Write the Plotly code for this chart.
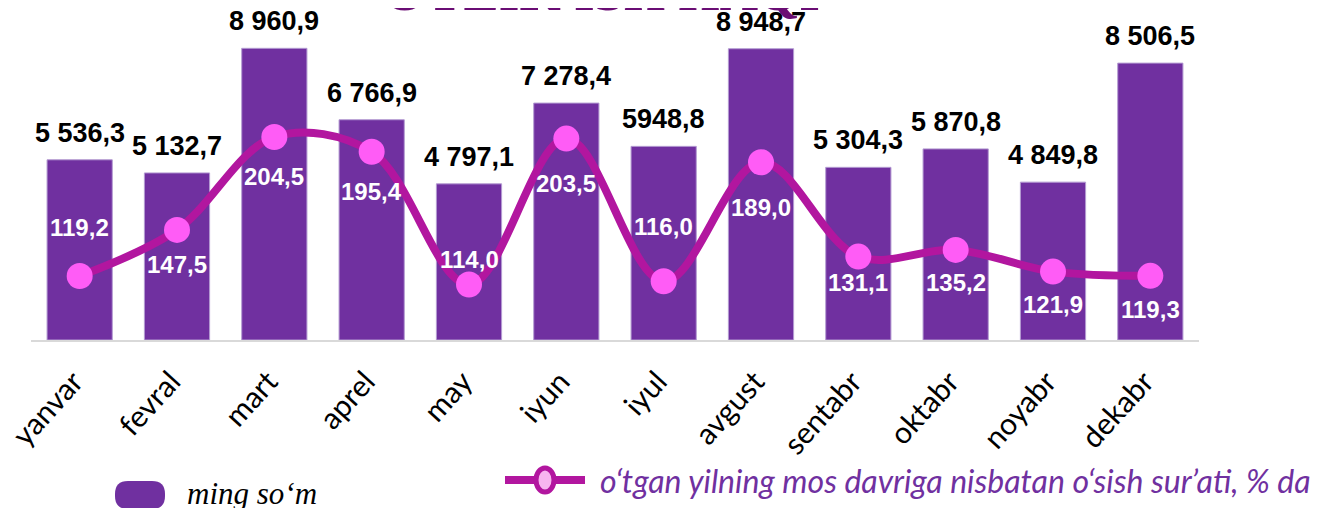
import plotly.graph_objects as go

months = ["yanvar", "fevral", "mart", "aprel", "may", "iyun", "iyul",
          "avgust", "sentabr", "oktabr", "noyabr", "dekabr"]
wage = [5536.3, 5132.7, 8960.9, 6766.9, 4797.1, 7278.4, 5948.8,
        8948.7, 5304.3, 5870.8, 4849.8, 8506.5]
wage_labels = ["5 536,3", "5 132,7", "8 960,9", "6 766,9", "4 797,1", "7 278,4",
               "5948,8", "8 948,7", "5 304,3", "5 870,8", "4 849,8", "8 506,5"]
growth = [119.2, 147.5, 204.5, 195.4, 114.0, 203.5, 116.0,
          189.0, 131.1, 135.2, 121.9, 119.3]
growth_labels = [f"{v:.1f}".replace(".", ",") for v in growth]

title_text = "OYLIK ISH HAQI"
bar_name = "ming so‘m"
line_name = "o‘tgan yilning mos davriga nisbatan o‘sish sur’ati, % da"

# style settings
BAR_COLOR = "#7030a0"
LINE_COLOR = "#b2169f"
MARKER_COLOR = "#ff5cf6"
label_offsets = [49, -35, -40, -40, 25, -45, 55, -45, -26, -33, -33, -34]

W, H = 1335, 508
OFF = 8  # page body margin
ML, MT = 31 - OFF, 20 - OFF
PW, PH = 1168, 320
MR = W - ML - PW
MB = H - MT - PH


def px_x(p):
    return (p - OFF - ML) / PW


def px_y(p):
    return (H - MB - (p - OFF)) / PH


fig = go.Figure()
fig.add_trace(go.Bar(
    x=months, y=wage, name=bar_name,
    marker=dict(color=BAR_COLOR, line=dict(color="#b49bd2", width=1)),
    yaxis="y", showlegend=False,
))
fig.add_trace(go.Scatter(
    x=months, y=growth, name=line_name, mode="lines+markers",
    line=dict(color=LINE_COLOR, width=8, shape="spline", smoothing=1),
    marker=dict(color=MARKER_COLOR, size=26, line=dict(width=0)),
    yaxis="y2", showlegend=False,
))

annotations = []
for m, v, t in zip(months, wage, wage_labels):
    annotations.append(dict(
        x=m, y=v, xref="x", yref="y", text=t, showarrow=False,
        yanchor="middle", yshift=27,
        font=dict(family="Liberation Sans", size=27, color="black", weight="bold"),
    ))
for m, v, t, s in zip(months, growth, growth_labels, label_offsets):
    annotations.append(dict(
        x=m, y=v, xref="x", yref="y2", text=t, showarrow=False,
        yanchor="middle", yshift=s,
        font=dict(family="Liberation Sans", size=24, color="white", weight="bold"),
    ))

# title (mostly outside the visible page, as in the reference)
annotations.append(dict(
    x=px_x(602), y=px_y(23), xref="paper", yref="paper", text=title_text,
    showarrow=False, xanchor="center", yanchor="bottom",
    font=dict(family="Liberation Serif", size=53, color="#6a0d74", weight="bold"),
))

# legend texts
annotations.append(dict(
    x=px_x(185), y=px_y(493), xref="paper", yref="paper", text=bar_name,
    showarrow=False, xanchor="left", yanchor="middle",
    font=dict(family="Liberation Serif", size=31, color="black", style="italic"),
))
annotations.append(dict(
    x=px_x(598), y=px_y(480), xref="paper", yref="paper", text=line_name,
    showarrow=False, xanchor="left", yanchor="middle",
    font=dict(family="Lato", size=32, color=BAR_COLOR, style="italic"),
))

shapes = [
    dict(type="path", xref="paper", yref="paper", xsizemode="pixel", ysizemode="pixel",
         xanchor=px_x(140), yanchor=px_y(495),
         path="M -12,-14 L 12,-14 Q 25,-14 25,-1 L 25,1 Q 25,14 12,14 L -12,14 "
              "Q -25,14 -25,1 L -25,-1 Q -25,-14 -12,-14 Z",
         fillcolor=BAR_COLOR, line=dict(width=0)),
    dict(type="line", xref="paper", yref="paper",
         x0=px_x(505), x1=px_x(585), y0=px_y(480), y1=px_y(480),
         line=dict(color=LINE_COLOR, width=8)),
    dict(type="circle", xref="paper", yref="paper", xsizemode="pixel", ysizemode="pixel",
         xanchor=px_x(545), yanchor=px_y(480), x0=-9, x1=9, y0=-12, y1=12,
         fillcolor="#f7b5ef", line=dict(color=LINE_COLOR, width=5)),
]

fig.update_layout(
    width=W, height=H,
    margin=dict(l=ML, r=MR, t=MT, b=MB, autoexpand=False),
    paper_bgcolor="white", plot_bgcolor="white",
    bargap=0.33,
    xaxis=dict(type="category", range=[-0.5, len(months) - 0.5],
               showline=True, linecolor="#d9d9d9", linewidth=2,
               ticks="", tickangle=-48, showgrid=False, automargin=False,
               ticklabelshift=-6, ticklabelstandoff=10,
               tickfont=dict(family="Lato", size=30, color="black")),
    yaxis=dict(range=[0, 9831], visible=False, showgrid=False, automargin=False),
    yaxis2=dict(range=[79.94, 276.26], overlaying="y", visible=False, showgrid=False,
                automargin=False),
    annotations=annotations,
    shapes=shapes,
    showlegend=False,
)

fig.write_html("out.html")
